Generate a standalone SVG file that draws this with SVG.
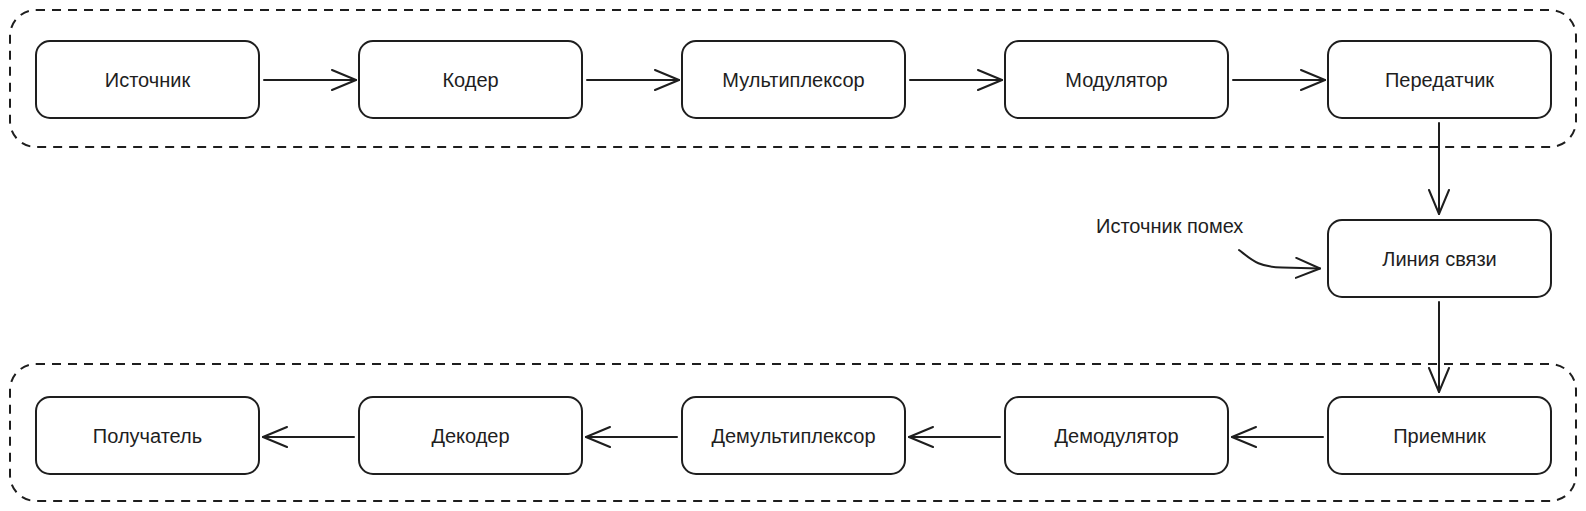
<svg xmlns="http://www.w3.org/2000/svg" width="1586" height="511" viewBox="0 0 1586 511">
<defs>
<style>
.box{fill:#ffffff;stroke:#1e1e1e;stroke-width:2;}
.grp{fill:none;stroke:#1e1e1e;stroke-width:2;stroke-dasharray:9 7;}
.lbl{font-family:"Liberation Sans",Arial,sans-serif;font-size:20px;fill:#1e1e1e;text-anchor:middle;}
.free{font-family:"Liberation Sans",Arial,sans-serif;font-size:20px;fill:#1e1e1e;text-anchor:start;}
.conn{fill:none;stroke:#1e1e1e;stroke-width:2;stroke-linecap:round;}
</style>
<marker id="ah" markerUnits="userSpaceOnUse" markerWidth="30" markerHeight="26" refX="25" refY="11" orient="auto">
<path d="M1,1 L25,11 L1,21" fill="none" stroke="#1e1e1e" stroke-width="2" stroke-linecap="round" stroke-linejoin="round"/>
</marker>
</defs>
<rect id="bg" width="1586" height="511" fill="#ffffff"/>
<g id="group-tx">
<rect class="grp" x="10" y="10" width="1566" height="137" rx="26"/>
</g>
<g id="group-rx">
<rect class="grp" x="10" y="364" width="1566" height="137" rx="26"/>
</g>
<g id="connectors">
<line class="conn" x1="264" y1="80" x2="356" y2="80" marker-end="url(#ah)"/>
<line class="conn" x1="587" y1="80" x2="679" y2="80" marker-end="url(#ah)"/>
<line class="conn" x1="910" y1="80" x2="1002" y2="80" marker-end="url(#ah)"/>
<line class="conn" x1="1233" y1="80" x2="1325" y2="80" marker-end="url(#ah)"/>
<line class="conn" x1="1439" y1="123" x2="1439" y2="214" marker-end="url(#ah)"/>
<line class="conn" x1="1439" y1="302" x2="1439" y2="392" marker-end="url(#ah)"/>
<path class="conn" d="M1239,250 C1252,260 1258,267 1282,267.5 L1320,268.5" marker-end="url(#ah)"/>
<line class="conn" x1="1323" y1="437" x2="1232" y2="437" marker-end="url(#ah)"/>
<line class="conn" x1="1000" y1="437" x2="909" y2="437" marker-end="url(#ah)"/>
<line class="conn" x1="677" y1="437" x2="586" y2="437" marker-end="url(#ah)"/>
<line class="conn" x1="354" y1="437" x2="263" y2="437" marker-end="url(#ah)"/>
</g>
<g id="n-source"><rect class="box" x="36" y="41" width="223" height="77" rx="14"/><text class="lbl" x="147.5" y="86.5">Источник</text></g>
<g id="n-coder"><rect class="box" x="359" y="41" width="223" height="77" rx="14"/><text class="lbl" x="470.5" y="86.5">Кодер</text></g>
<g id="n-mux"><rect class="box" x="682" y="41" width="223" height="77" rx="14"/><text class="lbl" x="793.5" y="86.5">Мультиплексор</text></g>
<g id="n-mod"><rect class="box" x="1005" y="41" width="223" height="77" rx="14"/><text class="lbl" x="1116.5" y="86.5">Модулятор</text></g>
<g id="n-tx"><rect class="box" x="1328" y="41" width="223" height="77" rx="14"/><text class="lbl" x="1439.5" y="86.5">Передатчик</text></g>
<g id="n-line"><rect class="box" x="1328" y="220" width="223" height="77" rx="14"/><text class="lbl" x="1439.5" y="265.5">Линия связи</text></g>
<g id="n-noise"><text class="free" x="1096" y="233">Источник помех</text></g>
<g id="n-rx"><rect class="box" x="1328" y="397" width="223" height="77" rx="14"/><text class="lbl" x="1439.5" y="442.5">Приемник</text></g>
<g id="n-demod"><rect class="box" x="1005" y="397" width="223" height="77" rx="14"/><text class="lbl" x="1116.5" y="442.5">Демодулятор</text></g>
<g id="n-demux"><rect class="box" x="682" y="397" width="223" height="77" rx="14"/><text class="lbl" x="793.5" y="442.5">Демультиплексор</text></g>
<g id="n-decoder"><rect class="box" x="359" y="397" width="223" height="77" rx="14"/><text class="lbl" x="470.5" y="442.5">Декодер</text></g>
<g id="n-receiver"><rect class="box" x="36" y="397" width="223" height="77" rx="14"/><text class="lbl" x="147.5" y="442.5">Получатель</text></g>
</svg>
